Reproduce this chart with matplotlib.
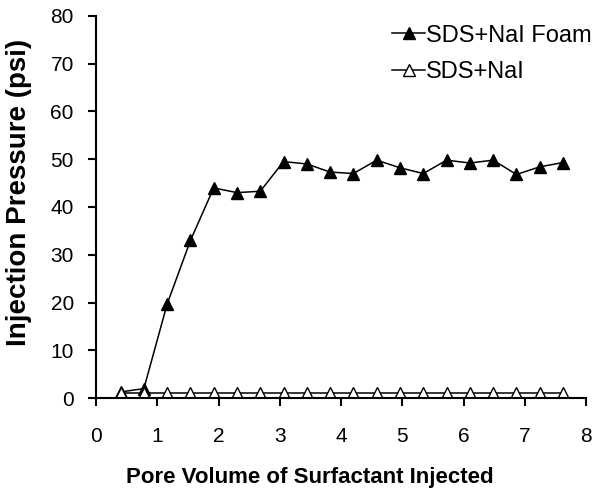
import matplotlib
matplotlib.use("Agg")
from matplotlib import pyplot as plt

plt.rcParams['font.family'] = ['Liberation Sans', 'DejaVu Sans']

# Pore volume injected
pv = [0.40, 0.78, 1.16, 1.54, 1.92, 2.30, 2.68, 3.06, 3.44, 3.82,
      4.20, 4.58, 4.96, 5.34, 5.72, 6.10, 6.48, 6.86, 7.24, 7.62]

# Injection pressure (psi)
foam = [1.3, 2.0, 19.7, 33.0, 44.0, 43.0, 43.3, 49.5, 49.0, 47.3,
        47.0, 49.8, 48.2, 47.0, 49.8, 49.2, 49.8, 46.8, 48.4, 49.3]
no_foam = [1.0] * 20

fig = plt.figure(figsize=(6.12, 4.94), dpi=100)
ax = fig.add_axes([0.157, 0.194, 0.801, 0.774])

ax.plot(pv, foam, color='black', lw=1.1, marker='^', ms=9,
        mfc='black', mec='black', label='SDS+NaI Foam')
ax.plot(pv, no_foam, color='black', lw=1.1, marker='^', ms=9,
        mfc='white', mec='black', label='SDS+NaI')

ax.set_xlim(0, 8)
ax.set_ylim(0, 80)
ax.set_xticks(range(0, 9))
ax.set_yticks(range(0, 81, 10))

for s in ('top', 'right'):
    ax.spines[s].set_visible(False)
for s in ('left', 'bottom'):
    ax.spines[s].set_linewidth(1.5)
ax.tick_params(direction='out', length=6, width=1.5, labelsize=15)
ax.tick_params(axis='x', pad=15)
ax.tick_params(axis='y', pad=10)

ax.set_xlabel('Pore Volume of Surfactant Injected', fontsize=16,
              fontweight='bold')
ax.xaxis.set_label_coords(0.435, -0.18)
ax.set_ylabel('Injection Pressure (psi)', fontsize=20, fontweight='bold')
ax.yaxis.set_label_coords(-0.13, 0.538)

ax.legend(loc='upper left', frameon=False, fontsize=17, handlelength=1.4,
          handletextpad=0.05, labelspacing=0.6, borderpad=0,
          borderaxespad=0, bbox_to_anchor=(0.6405, 0.95),
          bbox_transform=fig.transFigure)

fig.savefig('out.png', dpi=100)
